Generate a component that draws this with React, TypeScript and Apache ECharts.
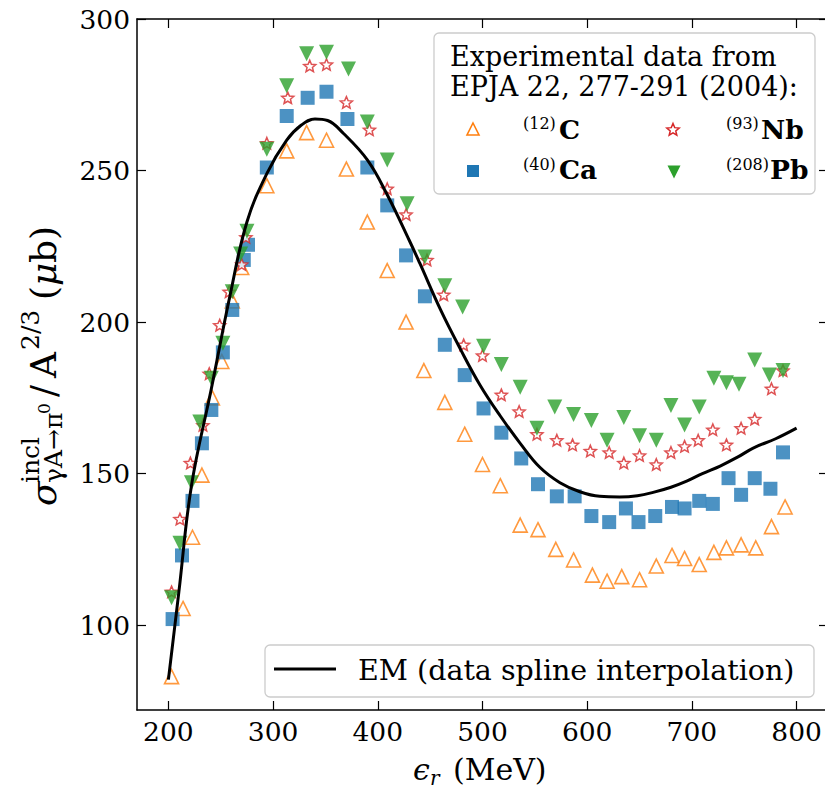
import React, { useEffect, useRef } from "react";
import * as echarts from "echarts";

// ---- data ----
const C_E = [203, 214, 223, 232, 242, 251, 261, 270, 294, 313, 332, 351, 370, 390, 409, 427, 444, 464, 483, 500, 517, 536, 553, 570, 587, 605, 619, 633, 650, 666, 681, 693, 707, 721, 733, 747, 761, 776, 789];
const C_V = [83, 105.5, 129, 149.5, 175, 187, 207, 218, 245, 256.5, 262.5, 260, 250.5, 233, 217, 200, 184, 173.5, 163, 153, 146, 133, 131.5, 125, 121.5, 116.5, 114.5, 116, 115, 119.5, 123, 122, 120, 124, 125.5, 126.5, 125.5, 132.5, 139];

const CA_E = [204, 213, 223, 232, 241, 252, 261, 272, 276, 294, 313, 333, 351, 371, 390, 409, 427, 445, 464, 483, 501, 518, 537, 553, 571, 588, 604, 621, 637, 649, 665, 681, 693, 707, 720, 735, 747, 760, 775, 787];
const CA_V = [102, 123, 141, 160, 171, 190, 204, 220.5, 225.5, 251, 268, 274, 276, 267, 251, 238.5, 222, 208.5, 192.5, 182.5, 171.5, 163.5, 155, 146.5, 142.5, 142.5, 136, 134, 138.5, 134, 136, 139, 138.5, 141, 140, 148.5, 143, 148.5, 145, 157];

const NB_E = [203, 211, 221, 233, 239, 249, 258, 270, 274, 294, 314, 335, 351, 370, 392, 409, 427, 447, 463, 482, 500, 518, 535, 552, 571, 586, 603, 621, 635, 650, 666, 680, 693, 706, 720, 733, 747, 760, 776, 787];
const NB_V = [111, 135, 153.5, 166, 183, 199, 210, 219, 228, 259, 274, 284.5, 285, 272.5, 263.5, 244, 235.5, 220.5, 209, 192.5, 189, 176, 170.5, 163, 161, 159.5, 157.5, 157, 153.5, 156, 153, 157, 159, 161, 164.5, 159.5, 165, 168, 178, 184];

const PB_E = [203, 211, 222, 230, 241, 252, 261, 269, 275, 294, 313, 332, 351, 372, 390, 409, 428, 445, 464, 481, 501, 518, 536, 552, 569, 587, 604, 619, 635, 650, 666, 680, 693, 707, 721, 733, 745, 760, 774, 787];
const PB_V = [109, 127, 147, 167, 181.5, 193, 210, 222.5, 230, 257, 278, 288.5, 289, 283.5, 266, 253.5, 239, 221.5, 212, 205, 192, 186, 178.5, 165, 172, 169.5, 167.5, 161, 168.5, 162.5, 161, 172.5, 166, 172, 181.5, 180, 179.5, 187.5, 182.5, 184];

const EM_E = [200, 210, 222, 241, 259, 275, 294, 313, 327, 340, 352, 367, 390, 409, 430, 440, 460, 479, 498, 517, 536, 555, 574, 593, 612, 631, 648, 663, 680, 695, 710, 727, 744, 759, 780, 800];
const EM_V = [82, 111, 146, 178, 209, 233, 249, 260, 265, 267, 266.5, 262.3, 253.5, 242, 227, 219.5, 204, 191, 179, 169, 160, 152, 147, 144, 142.5, 142.3, 142.7, 143.8, 145.5, 147.5, 150, 152.5, 155.5, 158.5, 161.5, 165];

const X_TICKS = [200, 300, 400, 500, 600, 700, 800];
const Y_TICKS = [100, 150, 200, 250, 300];

const LEGEND_TITLE = ["Experimental data from", "EPJA 22, 277-291 (2004):"];
const EM_LABEL = "EM (data spline interpolation)";

// ---- styling ----
const FF = '"DejaVu Serif"';
const FS = 26.5;
const ORANGE = "#ff7f0e";
const BLUE = "#1f77b4";
const RED = "#d62728";
const GREEN = "#2ca02c";

const zip = (a: number[], b: number[]) => a.map((x, i) => [x, b[i]]);

function starPoints(cx: number, cy: number, R: number, ratio: number) {
  const pts: number[][] = [];
  for (let i = 0; i < 10; i++) {
    const ang = (-90 + 36 * i) * Math.PI / 180;
    const r = i % 2 === 0 ? R : R * ratio;
    pts.push([cx + r * Math.cos(ang), cy + r * Math.sin(ang)]);
  }
  return pts;
}
const STAR_SYMBOL =
  "path://" +
  starPoints(50, 50, 50, 0.45)
    .map((p, i) => (i === 0 ? "M" : "L") + p[0].toFixed(2) + " " + p[1].toFixed(2))
    .join(" ") +
  " Z";

function txt(x: number, y: number, text: string, size: number, opts: any = {}) {
  const weight = opts.bold ? "bold " : "";
  const style = opts.italic ? "italic " : "";
  return {
    type: "text",
    x,
    y,
    silent: true,
    z: opts.z ?? 101,
    style: {
      text,
      font: `${style}${weight}${size}px ${FF}`,
      fill: "#000",
      textAlign: opts.align ?? "left",
      textVerticalAlign: "middle",
    },
  };
}

function triUp(cx: number, cy: number, s: number) {
  return [[cx, cy - s / 2], [cx + s / 2, cy + s / 2], [cx - s / 2, cy + s / 2]];
}
function triDown(cx: number, cy: number, s: number) {
  return [[cx - s / 2, cy - s / 2], [cx + s / 2, cy - s / 2], [cx, cy + s / 2]];
}

export default function App() {
  const ref = useRef<HTMLDivElement>(null);
  useEffect(() => {
    document.body.style.margin = "0";
    document.body.style.overflow = "hidden";
    const chart = echarts.init(ref.current!, null, { renderer: "svg" });

    const axisCommon = {
      type: "value",
      splitLine: { show: false },
      axisLine: { show: true, onZero: false, lineStyle: { color: "#000", width: 1.5 } },
    };

    // y-axis title, laid out along its reading direction (rotated 90° CCW)
    const M = 36; // main size
    const S = 25; // sub/superscript size
    const mid = -0.3 * M;
    const yLab = {
      type: "group",
      x: 54,
      y: 506,
      rotation: Math.PI / 2,
      silent: true,
      children: [
        txt(0, mid, "σ", M, { italic: true }),
        txt(23, -23.5, "incl", S),
        txt(23, -0.5, "γA→π", S),
        txt(92, -10, "0", 17),
        txt(109, mid, "/", M),
        txt(128, mid, "A", M),
        txt(156, -23.5, "2/3", S),
        txt(206, mid, "(", M),
        txt(220, mid, "μ", M, { italic: true }),
        txt(243, mid, "b)", M),
      ],
    };

    const xLab = [
      txt(413, 769, "ϵ", 30, { italic: true }),
      txt(430, 778, "r", 20, { italic: true }),
      txt(453, 769, "(MeV)", 30),
    ];

    const legend1 = [
      {
        type: "rect",
        silent: true,
        z: 100,
        shape: { x: 434, y: 33, width: 381, height: 161, r: 5 },
        style: { fill: "rgba(255,255,255,0.8)", stroke: "#cccccc", lineWidth: 1.3 },
      },
      txt(450, 56, LEGEND_TITLE[0], 27),
      txt(450, 86, LEGEND_TITLE[1], 27),
      {
        type: "polygon", silent: true, z: 101,
        shape: { points: triUp(473, 129, 12) },
        style: { fill: "#fff", stroke: ORANGE, lineWidth: 1.6 },
      },
      {
        type: "rect", silent: true, z: 101,
        shape: { x: 467, y: 165, width: 12, height: 12 },
        style: { fill: BLUE },
      },
      {
        type: "polygon", silent: true, z: 101,
        shape: { points: starPoints(673, 130, 6.5, 0.45) },
        style: { fill: "#fff", stroke: RED, lineWidth: 1.5 },
      },
      {
        type: "polygon", silent: true, z: 101,
        shape: { points: triDown(674, 172, 13) },
        style: { fill: GREEN },
      },
      txt(523, 123, "(12)", 16),
      txt(559, 129, "C", FS, { bold: true }),
      txt(523, 164, "(40)", 16),
      txt(559, 169, "Ca", FS, { bold: true }),
      txt(726, 123, "(93)", 16),
      txt(761, 129, "Nb", FS, { bold: true }),
      txt(726, 164, "(208)", 16),
      txt(770, 169, "Pb", FS, { bold: true }),
    ];

    const legend2 = [
      {
        type: "rect",
        silent: true,
        z: 100,
        shape: { x: 265, y: 645, width: 549, height: 52, r: 5 },
        style: { fill: "rgba(255,255,255,0.8)", stroke: "#cccccc", lineWidth: 1.3 },
      },
      {
        type: "line", silent: true, z: 101,
        shape: { x1: 274, y1: 669, x2: 336, y2: 669 },
        style: { stroke: "#000", lineWidth: 3 },
      },
      txt(358, 670, EM_LABEL, 28.5),
    ];

    chart.setOption({
      animation: false,
      textStyle: { fontFamily: "DejaVu Serif" },
      grid: { left: 137, right: -3, top: 19, bottom: 80, containLabel: false, outerBoundsMode: "none" },
      xAxis: [
        {
          ...axisCommon,
          position: "bottom",
          min: 170,
          max: 830,
          axisTick: { show: true, inside: true, length: 9, customValues: X_TICKS, lineStyle: { color: "#000", width: 1.2 } },
          axisLabel: { show: true, customValues: X_TICKS, margin: 8, color: "#000", fontSize: FS, fontFamily: "DejaVu Serif" },
        },
        {
          ...axisCommon,
          position: "top",
          min: 170,
          max: 830,
          axisTick: { show: true, inside: true, length: 9, customValues: X_TICKS, lineStyle: { color: "#000", width: 1.2 } },
          axisLabel: { show: false },
        },
      ],
      yAxis: [
        {
          ...axisCommon,
          position: "left",
          min: 72,
          max: 300,
          axisTick: { show: true, inside: true, length: 9, customValues: Y_TICKS, lineStyle: { color: "#000", width: 1.2 } },
          axisLabel: { show: true, customValues: Y_TICKS, margin: 7, color: "#000", fontSize: FS, fontFamily: "DejaVu Serif" },
        },
        {
          ...axisCommon,
          position: "right",
          min: 72,
          max: 300,
          axisTick: { show: true, inside: true, length: 9, customValues: Y_TICKS, lineStyle: { color: "#000", width: 1.2 } },
          axisLabel: { show: false },
        },
      ],
      series: [
        {
          name: "C",
          type: "scatter",
          data: zip(C_E, C_V),
          symbol: "triangle",
          symbolSize: 14,
          itemStyle: { color: "#ffffff", borderColor: ORANGE, borderWidth: 1.6 },
          z: 3,
        },
        {
          name: "Ca",
          type: "scatter",
          data: zip(CA_E, CA_V),
          symbol: "rect",
          symbolSize: 14,
          itemStyle: { color: BLUE },
          z: 3,
        },
        {
          name: "Nb",
          type: "scatter",
          data: zip(NB_E, NB_V),
          symbol: STAR_SYMBOL,
          symbolKeepAspect: true,
          symbolSize: 12,
          itemStyle: { color: "#ffffff", borderColor: RED, borderWidth: 1.5 },
          z: 3,
        },
        {
          name: "Pb",
          type: "scatter",
          data: zip(PB_E, PB_V),
          symbol: "triangle",
          symbolRotate: 180,
          symbolSize: 15,
          itemStyle: { color: GREEN },
          z: 3,
        },
        {
          name: "EM",
          type: "line",
          data: zip(EM_E, EM_V),
          smooth: 0.4,
          showSymbol: false,
          lineStyle: { color: "#000", width: 3 },
          z: 5,
        },
      ],
      graphic: [yLab, ...xLab, ...legend1, ...legend2],
    });
    return () => chart.dispose();
  }, []);
  return (
    <div style={{ width: 825, height: 790, overflow: "hidden", position: "relative" }}>
      <div ref={ref} style={{ width: 825, height: 790 }} />
    </div>
  );
}
